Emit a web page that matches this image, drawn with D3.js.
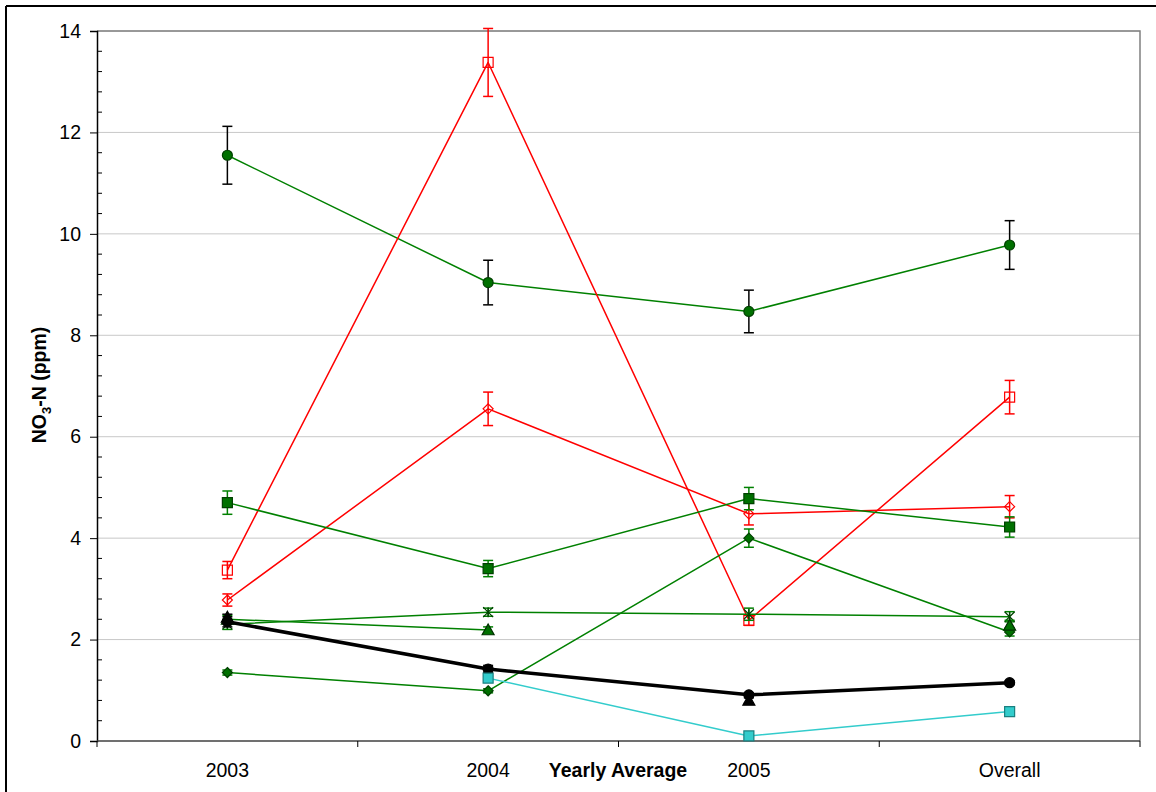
<!DOCTYPE html>
<html>
<head>
<meta charset="utf-8">
<script src="https://cdn.jsdelivr.net/npm/d3@7/dist/d3.min.js"></script>
<style>
  html, body { margin: 0; padding: 0; background: #fff; }
  svg { display: block; font-family: "Liberation Sans", Arial, sans-serif; }
</style>
</head>
<body>
<svg id="chart" width="1156" height="792"></svg>
<script>
// Categories along the x axis
const categories = ["2003", "2004", "2005", "Overall"];
const yTicks = [0, 2, 4, 6, 8, 10, 12, 14];

// Yearly NO3-N means (ppm) and their error half-widths, one pair per site
const greenCircleVals = [11.55, 9.04, 8.47, 9.78];
const greenCircleErr  = [0.57, 0.44, 0.42, 0.48];
const redSquareVals   = [3.37, 13.38, 2.38, 6.78];
const redSquareErr    = [0.17, 0.67, 0.10, 0.33];
const redDiamondVals  = [2.78, 6.55, 4.48, 4.62];
const redDiamondErr   = [0.12, 0.33, 0.22, 0.22];
const greenSquareVals = [4.70, 3.40, 4.78, 4.22];
const greenSquareErr  = [0.23, 0.16, 0.22, 0.20];
const greenDiamondVals = [1.35, 0.99, 4.00, 2.15];
const greenDiamondErr  = [0.05, 0.04, 0.18, 0.08];
const greenStarVals   = [2.30, 2.54, 2.50, 2.45];
const greenStarErr    = [0.10, 0.08, 0.12, 0.10];
const greenTriVals    = [2.40, 2.19, null, 2.28];
const greenTriErr     = [0.08, 0.06, null, 0.10];
const blackTriVals    = [2.44, null, 0.80, null];
const blackTriErr     = [0.06, null, 0.05, null];
const blackCircleVals = [2.35, 1.42, 0.91, 1.15];
const blackCircleErr  = [0.10, 0.07, 0.04, 0.04];
const cyanSquareVals  = [null, 1.24, 0.10, 0.58];
const cyanSquareErr   = [null, 0.04, 0.03, 0.03];

// Series table assembled from the arrays above
const series = [
  { vals: greenCircleVals, err: greenCircleErr, line: "#008000", lw: 1.5, sym: "circle", fill: "#007000", stroke: "#004000", errColor: "#000", size: 5 },
  { vals: redSquareVals, err: redSquareErr, line: "#ff0000", lw: 1.5, sym: "square", fill: "none", stroke: "#ff0000", errColor: "#ff0000", size: 5 },
  { vals: redDiamondVals, err: redDiamondErr, line: "#ff0000", lw: 1.5, sym: "diamond", fill: "none", stroke: "#ff0000", errColor: "#ff0000", size: 5 },
  { vals: greenSquareVals, err: greenSquareErr, line: "#008000", lw: 1.5, sym: "square", fill: "#007000", stroke: "#004000", errColor: "#008000", size: 5 },
  { vals: greenDiamondVals, err: greenDiamondErr, line: "#008000", lw: 1.5, sym: "diamond", fill: "#007000", stroke: "#004000", errColor: "#008000", size: 5 },
  { vals: greenStarVals, err: greenStarErr, line: "#008000", lw: 1.5, sym: "star", fill: "none", stroke: "#004000", errColor: "#008000", size: 5 },
  { vals: greenTriVals, err: greenTriErr, line: "#008000", lw: 1.5, sym: "triangle", fill: "#007000", stroke: "#003000", errColor: "#008000", size: 6 },
  { vals: blackTriVals, err: blackTriErr, line: null, lw: 0, sym: "triangle", fill: "#000", stroke: "#000", errColor: "#000", size: 6 },
  { vals: blackCircleVals, err: blackCircleErr, line: "#000", lw: 3.5, sym: "circle", fill: "#000", stroke: "#000", errColor: "#000", size: 5 },
  { vals: cyanSquareVals, err: cyanSquareErr, line: "#33cccc", lw: 1.5, sym: "square", fill: "#33cccc", stroke: "#1a8080", errColor: "#33cccc", size: 5 }
];

const svg = d3.select("#chart");
const W = 1156, H = 792;
const plot = { left: 97, right: 1140, top: 31, bottom: 741 };
const FS = 19.5;

// Figure frame
svg.append("line").attr("x1", 6).attr("x2", W).attr("y1", 6).attr("y2", 6)
  .attr("stroke", "#000").attr("stroke-width", 2);
svg.append("line").attr("x1", 6).attr("x2", 6).attr("y1", 6).attr("y2", H)
  .attr("stroke", "#000").attr("stroke-width", 2);

const x = d3.scaleBand().domain(categories).range([plot.left, plot.right]).paddingInner(0).paddingOuter(0);
const cx = c => x(c) + x.bandwidth() / 2;
const y = d3.scaleLinear().domain([0, 14]).range([plot.bottom, plot.top]);

// Horizontal gridlines
svg.append("g").selectAll("line").data(yTicks.filter(t => t > 0)).join("line")
  .attr("x1", plot.left).attr("x2", plot.right)
  .attr("y1", d => y(d)).attr("y2", d => y(d))
  .attr("stroke", "#c8c8c8").attr("stroke-width", 1);

// Plot area frame (top and right)
svg.append("path")
  .attr("d", `M${plot.left},${y(14)}H${plot.right}V${plot.bottom}`)
  .attr("fill", "none").attr("stroke", "#808080").attr("stroke-width", 1.5);

// Y axis with major ticks outside and minor ticks inside
const yAxis = d3.axisLeft(y).tickValues(yTicks).tickSize(7).tickPadding(9).tickFormat(d3.format("d"));
const gy = svg.append("g").attr("transform", `translate(${plot.left},0)`).call(yAxis);
gy.select(".domain").attr("stroke", "#000").attr("stroke-width", 1.5);
gy.selectAll(".tick line").attr("stroke", "#000");
gy.selectAll(".tick text").attr("font-size", FS).attr("fill", "#000")
  .attr("font-family", "'Liberation Sans', Arial, sans-serif");
const minor = d3.range(0, 14.001, 0.4).filter(v => Math.abs(v / 2 - Math.round(v / 2)) > 1e-6);
svg.append("g").selectAll("line").data(minor).join("line")
  .attr("x1", plot.left).attr("x2", plot.left + 5)
  .attr("y1", d => y(d)).attr("y2", d => y(d))
  .attr("stroke", "#000").attr("stroke-width", 1);

// X axis: ticks on category boundaries, labels centred in bands
svg.append("line").attr("x1", plot.left).attr("x2", plot.right)
  .attr("y1", plot.bottom).attr("y2", plot.bottom)
  .attr("stroke", "#404040").attr("stroke-width", 1.5);
const bounds = categories.map(c => x(c)).concat([plot.right]);
svg.append("g").selectAll("line").data(bounds).join("line")
  .attr("x1", d => d).attr("x2", d => d)
  .attr("y1", plot.bottom).attr("y2", plot.bottom + 6)
  .attr("stroke", "#000");
svg.append("g").selectAll("text").data(categories).join("text")
  .attr("x", d => cx(d)).attr("y", 777)
  .attr("text-anchor", "middle").attr("font-size", FS).attr("fill", "#000")
  .text(d => d);

// Axis titles
svg.append("text").attr("x", 618).attr("y", 777)
  .attr("text-anchor", "middle").attr("font-size", FS).attr("font-weight", "bold")
  .text("Yearly Average");
const yt = svg.append("text")
  .attr("transform", "translate(46,385) rotate(-90)")
  .attr("text-anchor", "middle").attr("font-size", FS).attr("font-weight", "bold");
yt.append("tspan").text("NO");
yt.append("tspan").attr("font-size", 13).attr("dy", 5).text("3");
yt.append("tspan").attr("dy", -5).text("-N (ppm)");

// Marker path generator
function markerPath(sym, r) {
  switch (sym) {
    case "circle": return d3.symbol(d3.symbolCircle, Math.PI * r * r)();
    case "square": return `M${-r},${-r}H${r}V${r}H${-r}Z`;
    case "diamond": return `M0,${-r}L${r},0L0,${r}L${-r},0Z`;
    case "triangle": return `M0,${-r}L${r},${r * 0.8}L${-r},${r * 0.8}Z`;
    case "star": return `M${-r},${-r}L${r},${r}M${-r},${r}L${r},${-r}M0,${-r}V${r}`;
  }
}

const lineGen = d3.line()
  .defined(d => d.v !== null)
  .x(d => cx(d.c)).y(d => y(d.v));

series.forEach(s => {
  const pts = categories.map((c, i) => ({ c, v: s.vals[i], e: s.err[i] }));
  const g = svg.append("g");
  if (s.line) {
    g.append("path").attr("d", lineGen(pts))
      .attr("fill", "none").attr("stroke", s.line).attr("stroke-width", s.lw)
      .attr("stroke-linejoin", "round");
  }
  const valid = pts.filter(d => d.v !== null);
  // Error bars with caps
  const eb = g.selectAll("g.err").data(valid.filter(d => d.e)).join("g");
  eb.append("line")
    .attr("x1", d => cx(d.c)).attr("x2", d => cx(d.c))
    .attr("y1", d => y(d.v - d.e)).attr("y2", d => y(d.v + d.e))
    .attr("stroke", s.errColor).attr("stroke-width", 1.5);
  [-1, 1].forEach(sgn => {
    eb.append("line")
      .attr("x1", d => cx(d.c) - 5).attr("x2", d => cx(d.c) + 5)
      .attr("y1", d => y(d.v + sgn * d.e)).attr("y2", d => y(d.v + sgn * d.e))
      .attr("stroke", s.errColor).attr("stroke-width", 1.5);
  });
  // Markers
  g.selectAll("path.mk").data(valid).join("path")
    .attr("class", "mk")
    .attr("transform", d => `translate(${cx(d.c)},${y(d.v)})`)
    .attr("d", markerPath(s.sym, s.size))
    .attr("fill", s.sym === "star" ? "none" : s.fill)
    .attr("stroke", s.stroke).attr("stroke-width", 1.2);
});
</script>
</body>
</html>
